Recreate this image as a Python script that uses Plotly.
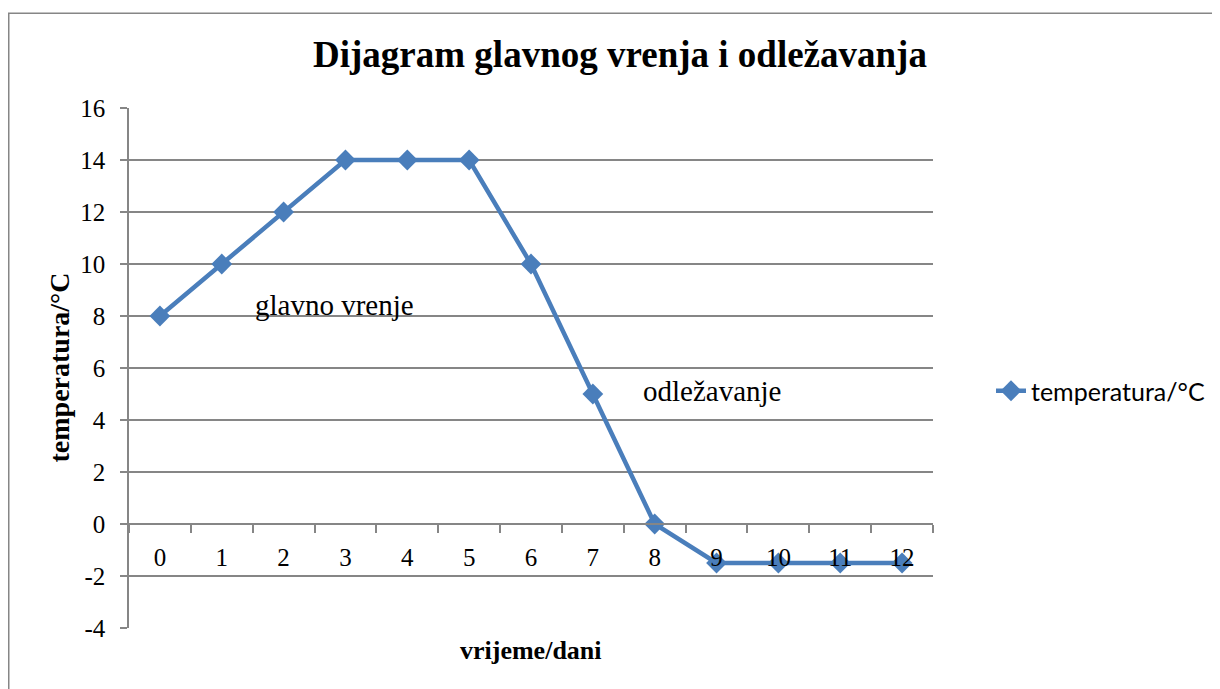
import plotly.graph_objects as go

days = [str(i) for i in range(13)]
temps = [8, 10, 12, 14, 14, 14, 10, 5, 0, -1.5, -1.5, -1.5, -1.5]
series_name = "temperatura/°C"
title_text = "Dijagram glavnog vrenja i odležavanja"
x_title = "vrijeme/dani"
y_title = "temperatura/°C"
y_ticks = [-4, -2, 0, 2, 4, 6, 8, 10, 12, 14, 16]
y_tick_labels = [str(v) for v in y_ticks]
labels = [("glavno vrenje", 2.83, 8.43), ("odležavanje", 8.92, 5.12)]

Y_MIN, Y_MAX = y_ticks[0], y_ticks[-1]
OFF = 8  # page body margin offset
W, H = 1220, 689
ML, MT = 129 - OFF, 108 - OFF
PW, PH = 804, 520
MR, MB = W - ML - PW, H - MT - PH

SERIF = "Liberation Serif, Times New Roman, serif"
GRAY = "#868686"
BLUE = "#4a7ebb"


def px_x(page_x):
    return (page_x - OFF - ML) / PW


def px_y(page_y):
    return (MT + PH - (page_y - OFF)) / PH


fig = go.Figure()
fig.add_trace(go.Scatter(
    x=days, y=temps, name=series_name, mode="lines+markers",
    line=dict(color=BLUE, width=4.5),
    marker=dict(symbol="diamond", size=16, color=BLUE),
))

annotations = []
for txt, xv, yv in labels:
    annotations.append(dict(x=xv, y=yv, xref="x", yref="y", text=txt, showarrow=False,
                            font=dict(family=SERIF, size=29, color="black")))
annotations.append(dict(x=0.5, y=px_y(650), xref="paper", yref="paper",
                        text=f"<b>{x_title}</b>", showarrow=False, yanchor="middle",
                        font=dict(family=SERIF, size=26, color="black")))
annotations.append(dict(x=px_x(58.5), y=0.5, xref="paper", yref="paper",
                        text=f"<b>{y_title}</b>", showarrow=False, textangle=-90,
                        xanchor="center", yanchor="middle",
                        font=dict(family=SERIF, size=28, color="black")))

fig.update_layout(
    width=W, height=H,
    margin=dict(l=ML, r=MR, t=MT, b=MB),
    paper_bgcolor="white", plot_bgcolor="white",
    title=dict(text=f"<b>{title_text}</b>", x=(620 - OFF) / W, xref="container", xanchor="center",
               y=1 - (54 - OFF) / H, yref="container", yanchor="middle",
               font=dict(family=SERIF, size=37, color="black")),
    xaxis=dict(
        type="category", range=[-0.5, len(days) - 0.5], anchor="free",
        position=(0 - Y_MIN) / (Y_MAX - Y_MIN),
        tickson="boundaries", ticks="outside", ticklen=8, tickcolor=GRAY, tickwidth=1.5,
        showline=True, linecolor=GRAY, linewidth=1.5, showgrid=False,
        tickfont=dict(family=SERIF, size=25, color="black"), ticklabelstandoff=11,
    ),
    yaxis=dict(
        range=[Y_MIN, Y_MAX], tickmode="array", tickvals=y_ticks, ticktext=y_tick_labels,
        showgrid=True, gridcolor=GRAY, gridwidth=1.5,
        showline=True, linecolor=GRAY, linewidth=1.5, zeroline=False,
        ticks="outside", ticklen=7, tickcolor=GRAY, tickwidth=1.5,
        tickfont=dict(family=SERIF, size=25, color="black"), ticklabelstandoff=10,
    ),
    showlegend=True,
    legend=dict(x=px_x(991), y=px_y(391), xanchor="left", yanchor="middle",
                font=dict(family="Lato, Carlito, sans-serif", size=25, color="black"),
                bgcolor="rgba(0,0,0,0)"),
    annotations=annotations,
    shapes=[dict(type="rect", xref="paper", yref="paper",
                 x0=px_x(8.75), x1=1.6, y0=-0.5, y1=px_y(13.25),
                 line=dict(color=GRAY, width=1.5), layer="below")],
)

fig.write_html("out.html")
